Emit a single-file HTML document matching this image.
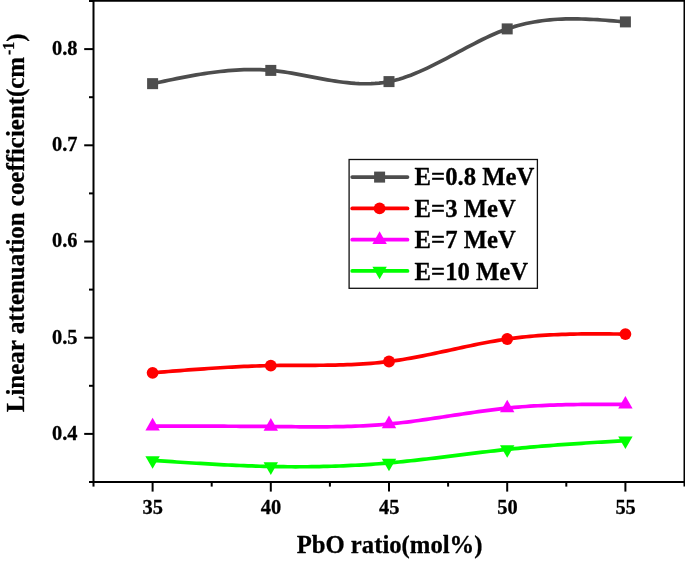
<!DOCTYPE html>
<html><head><meta charset="utf-8"><title>chart</title>
<style>html,body{margin:0;padding:0;background:#fff;}body{width:685px;height:561px;overflow:hidden;font-family:"Liberation Serif",serif;}svg text{stroke:#000;stroke-width:0.3px;stroke-linejoin:round;}</style>
</head><body>
<svg width="685" height="561" viewBox="0 0 685 561" style="display:block;will-change:transform">
<rect x="0" y="0" width="685" height="561" fill="#ffffff"/>
<path d="M152.60,83.65 L156.57,82.80 L160.55,81.96 L164.52,81.12 L168.49,80.29 L172.47,79.47 L176.44,78.67 L180.41,77.88 L184.38,77.11 L188.36,76.36 L192.33,75.64 L196.30,74.94 L200.28,74.28 L204.25,73.64 L208.22,73.04 L212.20,72.48 L216.17,71.96 L220.14,71.49 L224.12,71.06 L228.09,70.68 L232.06,70.35 L236.04,70.07 L240.01,69.85 L243.98,69.70 L247.95,69.60 L251.93,69.57 L255.90,69.61 L259.87,69.72 L263.85,69.90 L267.82,70.16 L271.79,70.49 L275.77,70.91 L279.74,71.39 L283.71,71.94 L287.69,72.54 L291.66,73.19 L295.63,73.88 L299.61,74.60 L303.58,75.34 L307.55,76.10 L311.52,76.86 L315.50,77.63 L319.47,78.38 L323.44,79.11 L327.42,79.82 L331.39,80.50 L335.36,81.14 L339.34,81.72 L343.31,82.25 L347.28,82.71 L351.26,83.10 L355.23,83.41 L359.20,83.63 L363.17,83.75 L367.15,83.76 L371.12,83.67 L375.09,83.44 L379.07,83.09 L383.04,82.61 L387.01,81.97 L390.99,81.19 L394.96,80.25 L398.93,79.16 L402.91,77.95 L406.88,76.60 L410.85,75.14 L414.83,73.58 L418.80,71.91 L422.77,70.16 L426.74,68.33 L430.72,66.42 L434.69,64.46 L438.66,62.45 L442.64,60.39 L446.61,58.30 L450.58,56.19 L454.56,54.06 L458.53,51.92 L462.50,49.79 L466.48,47.68 L470.45,45.58 L474.42,43.52 L478.39,41.50 L482.37,39.52 L486.34,37.61 L490.31,35.76 L494.29,34.00 L498.26,32.32 L502.23,30.73 L506.21,29.25 L510.18,27.89 L514.15,26.64 L518.13,25.49 L522.10,24.46 L526.07,23.52 L530.05,22.69 L534.02,21.95 L537.99,21.30 L541.96,20.73 L545.94,20.25 L549.91,19.85 L553.88,19.52 L557.86,19.26 L561.83,19.07 L565.80,18.95 L569.78,18.88 L573.75,18.86 L577.72,18.90 L581.70,18.98 L585.67,19.11 L589.64,19.28 L593.62,19.48 L597.59,19.71 L601.56,19.98 L605.53,20.26 L609.51,20.56 L613.48,20.88 L617.45,21.22 L621.43,21.56 L625.40,21.90" fill="none" stroke="#4d4d4d" stroke-width="3.7" stroke-linejoin="round" stroke-linecap="butt"/>
<rect x="147.10" y="78.15" width="11.00" height="11.00" fill="#4d4d4d"/>
<rect x="265.30" y="64.90" width="11.00" height="11.00" fill="#4d4d4d"/>
<rect x="383.50" y="76.10" width="11.00" height="11.00" fill="#4d4d4d"/>
<rect x="501.70" y="23.40" width="11.00" height="11.00" fill="#4d4d4d"/>
<rect x="619.90" y="16.40" width="11.00" height="11.00" fill="#4d4d4d"/>
<path d="M152.60,372.80 L156.57,372.48 L160.55,372.15 L164.52,371.83 L168.49,371.51 L172.47,371.19 L176.44,370.87 L180.41,370.56 L184.38,370.25 L188.36,369.95 L192.33,369.65 L196.30,369.35 L200.28,369.07 L204.25,368.78 L208.22,368.51 L212.20,368.25 L216.17,367.99 L220.14,367.74 L224.12,367.50 L228.09,367.27 L232.06,367.05 L236.04,366.85 L240.01,366.65 L243.98,366.47 L247.95,366.30 L251.93,366.14 L255.90,366.00 L259.87,365.87 L263.85,365.76 L267.82,365.66 L271.79,365.58 L275.77,365.52 L279.74,365.47 L283.71,365.43 L287.69,365.40 L291.66,365.38 L295.63,365.36 L299.61,365.35 L303.58,365.34 L307.55,365.33 L311.52,365.31 L315.50,365.29 L319.47,365.27 L323.44,365.23 L327.42,365.19 L331.39,365.13 L335.36,365.06 L339.34,364.96 L343.31,364.85 L347.28,364.72 L351.26,364.56 L355.23,364.38 L359.20,364.17 L363.17,363.93 L367.15,363.66 L371.12,363.36 L375.09,363.01 L379.07,362.63 L383.04,362.21 L387.01,361.75 L390.99,361.24 L394.96,360.69 L398.93,360.09 L402.91,359.46 L406.88,358.80 L410.85,358.10 L414.83,357.37 L418.80,356.61 L422.77,355.83 L426.74,355.03 L430.72,354.21 L434.69,353.38 L438.66,352.53 L442.64,351.68 L446.61,350.82 L450.58,349.95 L454.56,349.09 L458.53,348.23 L462.50,347.37 L466.48,346.52 L470.45,345.69 L474.42,344.86 L478.39,344.06 L482.37,343.27 L486.34,342.51 L490.31,341.77 L494.29,341.07 L498.26,340.39 L502.23,339.75 L506.21,339.14 L510.18,338.58 L514.15,338.06 L518.13,337.57 L522.10,337.13 L526.07,336.72 L530.05,336.34 L534.02,336.00 L537.99,335.68 L541.96,335.40 L545.94,335.15 L549.91,334.93 L553.88,334.73 L557.86,334.56 L561.83,334.41 L565.80,334.28 L569.78,334.18 L573.75,334.09 L577.72,334.02 L581.70,333.97 L585.67,333.93 L589.64,333.91 L593.62,333.90 L597.59,333.90 L601.56,333.91 L605.53,333.93 L609.51,333.96 L613.48,333.99 L617.45,334.02 L621.43,334.06 L625.40,334.10" fill="none" stroke="#ff0000" stroke-width="3.7" stroke-linejoin="round" stroke-linecap="butt"/>
<circle cx="152.60" cy="372.80" r="5.90" fill="#ff0000"/>
<circle cx="270.80" cy="365.60" r="5.90" fill="#ff0000"/>
<circle cx="389.00" cy="361.50" r="5.90" fill="#ff0000"/>
<circle cx="507.20" cy="339.00" r="5.90" fill="#ff0000"/>
<circle cx="625.40" cy="334.10" r="5.90" fill="#ff0000"/>
<path d="M152.60,426.20 L156.57,426.20 L160.55,426.19 L164.52,426.19 L168.49,426.18 L172.47,426.18 L176.44,426.18 L180.41,426.18 L184.38,426.17 L188.36,426.17 L192.33,426.17 L196.30,426.18 L200.28,426.18 L204.25,426.18 L208.22,426.19 L212.20,426.19 L216.17,426.20 L220.14,426.21 L224.12,426.22 L228.09,426.23 L232.06,426.25 L236.04,426.26 L240.01,426.28 L243.98,426.30 L247.95,426.32 L251.93,426.35 L255.90,426.37 L259.87,426.40 L263.85,426.44 L267.82,426.47 L271.79,426.51 L275.77,426.55 L279.74,426.59 L283.71,426.63 L287.69,426.68 L291.66,426.72 L295.63,426.75 L299.61,426.78 L303.58,426.81 L307.55,426.83 L311.52,426.85 L315.50,426.85 L319.47,426.85 L323.44,426.83 L327.42,426.80 L331.39,426.76 L335.36,426.71 L339.34,426.64 L343.31,426.55 L347.28,426.44 L351.26,426.32 L355.23,426.18 L359.20,426.01 L363.17,425.83 L367.15,425.62 L371.12,425.38 L375.09,425.12 L379.07,424.84 L383.04,424.52 L387.01,424.18 L390.99,423.81 L394.96,423.41 L398.93,422.98 L402.91,422.52 L406.88,422.05 L410.85,421.55 L414.83,421.03 L418.80,420.49 L422.77,419.94 L426.74,419.37 L430.72,418.79 L434.69,418.20 L438.66,417.61 L442.64,417.01 L446.61,416.40 L450.58,415.79 L454.56,415.18 L458.53,414.58 L462.50,413.98 L466.48,413.38 L470.45,412.80 L474.42,412.22 L478.39,411.65 L482.37,411.10 L486.34,410.57 L490.31,410.05 L494.29,409.55 L498.26,409.08 L502.23,408.63 L506.21,408.20 L510.18,407.80 L514.15,407.43 L518.13,407.09 L522.10,406.77 L526.07,406.48 L530.05,406.21 L534.02,405.96 L537.99,405.74 L541.96,405.53 L545.94,405.35 L549.91,405.18 L553.88,405.04 L557.86,404.91 L561.83,404.79 L565.80,404.70 L569.78,404.61 L573.75,404.54 L577.72,404.48 L581.70,404.44 L585.67,404.40 L589.64,404.37 L593.62,404.35 L597.59,404.34 L601.56,404.34 L605.53,404.34 L609.51,404.35 L613.48,404.36 L617.45,404.37 L621.43,404.38 L625.40,404.40" fill="none" stroke="#ff00ff" stroke-width="3.7" stroke-linejoin="round" stroke-linecap="butt"/>
<polygon points="152.60,417.80 145.40,430.40 159.80,430.40" fill="#ff00ff"/>
<polygon points="270.80,418.10 263.60,430.70 278.00,430.70" fill="#ff00ff"/>
<polygon points="389.00,415.60 381.80,428.20 396.20,428.20" fill="#ff00ff"/>
<polygon points="507.20,399.70 500.00,412.30 514.40,412.30" fill="#ff00ff"/>
<polygon points="625.40,396.00 618.20,408.60 632.60,408.60" fill="#ff00ff"/>
<path d="M152.60,460.40 L156.57,460.67 L160.55,460.93 L164.52,461.20 L168.49,461.46 L172.47,461.72 L176.44,461.98 L180.41,462.24 L184.38,462.49 L188.36,462.74 L192.33,462.99 L196.30,463.23 L200.28,463.47 L204.25,463.70 L208.22,463.93 L212.20,464.16 L216.17,464.37 L220.14,464.58 L224.12,464.78 L228.09,464.98 L232.06,465.17 L236.04,465.35 L240.01,465.52 L243.98,465.68 L247.95,465.83 L251.93,465.97 L255.90,466.10 L259.87,466.23 L263.85,466.34 L267.82,466.43 L271.79,466.52 L275.77,466.59 L279.74,466.66 L283.71,466.71 L287.69,466.74 L291.66,466.77 L295.63,466.78 L299.61,466.77 L303.58,466.76 L307.55,466.73 L311.52,466.69 L315.50,466.63 L319.47,466.56 L323.44,466.47 L327.42,466.37 L331.39,466.26 L335.36,466.13 L339.34,465.99 L343.31,465.83 L347.28,465.66 L351.26,465.47 L355.23,465.27 L359.20,465.05 L363.17,464.81 L367.15,464.56 L371.12,464.30 L375.09,464.02 L379.07,463.72 L383.04,463.40 L387.01,463.07 L390.99,462.72 L394.96,462.36 L398.93,461.98 L402.91,461.59 L406.88,461.18 L410.85,460.76 L414.83,460.33 L418.80,459.89 L422.77,459.44 L426.74,458.98 L430.72,458.51 L434.69,458.04 L438.66,457.56 L442.64,457.08 L446.61,456.59 L450.58,456.10 L454.56,455.61 L458.53,455.11 L462.50,454.62 L466.48,454.13 L470.45,453.64 L474.42,453.16 L478.39,452.68 L482.37,452.20 L486.34,451.73 L490.31,451.27 L494.29,450.81 L498.26,450.37 L502.23,449.93 L506.21,449.50 L510.18,449.09 L514.15,448.69 L518.13,448.30 L522.10,447.92 L526.07,447.55 L530.05,447.19 L534.02,446.85 L537.99,446.51 L541.96,446.18 L545.94,445.86 L549.91,445.54 L553.88,445.24 L557.86,444.94 L561.83,444.65 L565.80,444.36 L569.78,444.08 L573.75,443.81 L577.72,443.54 L581.70,443.28 L585.67,443.02 L589.64,442.77 L593.62,442.52 L597.59,442.27 L601.56,442.03 L605.53,441.79 L609.51,441.55 L613.48,441.31 L617.45,441.07 L621.43,440.84 L625.40,440.60" fill="none" stroke="#00ff00" stroke-width="3.7" stroke-linejoin="round" stroke-linecap="butt"/>
<polygon points="152.60,468.80 145.40,456.20 159.80,456.20" fill="#00ff00"/>
<polygon points="270.80,474.90 263.60,462.30 278.00,462.30" fill="#00ff00"/>
<polygon points="389.00,471.30 381.80,458.70 396.20,458.70" fill="#00ff00"/>
<polygon points="507.20,457.80 500.00,445.20 514.40,445.20" fill="#00ff00"/>
<polygon points="625.40,449.00 618.20,436.40 632.60,436.40" fill="#00ff00"/>
<g stroke="#000" stroke-width="2.0" fill="none" stroke-linecap="butt">
<line x1="93.5" y1="0" x2="93.5" y2="483.0"/>
<line x1="684.5" y1="0" x2="684.5" y2="483.0"/>
<line x1="92.5" y1="0.75" x2="685" y2="0.75"/>
<line x1="92.5" y1="482.0" x2="685" y2="482.0"/>
<line x1="89.00" y1="1.00" x2="93.5" y2="1.00"/>
<line x1="84.20" y1="49.10" x2="93.5" y2="49.10"/>
<line x1="89.00" y1="97.20" x2="93.5" y2="97.20"/>
<line x1="84.20" y1="145.30" x2="93.5" y2="145.30"/>
<line x1="89.00" y1="193.40" x2="93.5" y2="193.40"/>
<line x1="84.20" y1="241.50" x2="93.5" y2="241.50"/>
<line x1="89.00" y1="289.60" x2="93.5" y2="289.60"/>
<line x1="84.20" y1="337.70" x2="93.5" y2="337.70"/>
<line x1="89.00" y1="385.80" x2="93.5" y2="385.80"/>
<line x1="84.20" y1="433.90" x2="93.5" y2="433.90"/>
<line x1="89.00" y1="482.00" x2="93.5" y2="482.00"/>
<line x1="152.60" y1="482.0" x2="152.60" y2="491.60"/>
<line x1="211.70" y1="482.0" x2="211.70" y2="486.60"/>
<line x1="270.80" y1="482.0" x2="270.80" y2="491.60"/>
<line x1="329.90" y1="482.0" x2="329.90" y2="486.60"/>
<line x1="389.00" y1="482.0" x2="389.00" y2="491.60"/>
<line x1="448.10" y1="482.0" x2="448.10" y2="486.60"/>
<line x1="507.20" y1="482.0" x2="507.20" y2="491.60"/>
<line x1="566.30" y1="482.0" x2="566.30" y2="486.60"/>
<line x1="625.40" y1="482.0" x2="625.40" y2="491.60"/>
<line x1="684.50" y1="482.0" x2="684.50" y2="486.60"/>
<line x1="93.50" y1="482.0" x2="93.50" y2="486.60"/>
</g>
<g font-family="'Liberation Serif', serif" font-weight="bold" fill="#000" style="font-kerning:none;font-variant-ligatures:none;font-feature-settings:'liga' 0,'kern' 0,'clig' 0">
<text x="77.5" y="55.00" font-size="20.4" text-anchor="end">0.8</text>
<text x="77.5" y="151.20" font-size="20.4" text-anchor="end">0.7</text>
<text x="77.5" y="247.40" font-size="20.4" text-anchor="end">0.6</text>
<text x="77.5" y="343.60" font-size="20.4" text-anchor="end">0.5</text>
<text x="77.5" y="439.80" font-size="20.4" text-anchor="end">0.4</text>
<text x="152.80" y="514.2" font-size="20.4" text-anchor="middle">35</text>
<text x="271.00" y="514.2" font-size="20.4" text-anchor="middle">40</text>
<text x="389.20" y="514.2" font-size="20.4" text-anchor="middle">45</text>
<text x="507.40" y="514.2" font-size="20.4" text-anchor="middle">50</text>
<text x="625.60" y="514.2" font-size="20.4" text-anchor="middle">55</text>
<text id="xt" x="389.6" y="552.8" font-size="24.7" text-anchor="middle">PbO ratio(mol%)</text>
<text id="yt" transform="translate(24.1,412.2) rotate(-90)" font-size="24.9" text-anchor="start">Linear attenuation coefficient(cm<tspan font-size="15.81" dx="1.8" dy="-10.6">-1</tspan><tspan dx="0.1" dy="10.6">)</tspan></text>
<rect x="349.1" y="159.5" width="188.30" height="128.80" fill="#fff" stroke="#111" stroke-width="1.3"/>
<line x1="352.2" y1="177.1" x2="407.5" y2="177.1" stroke="#4d4d4d" stroke-width="3.7" stroke-linecap="round"/>
<rect x="374.10" y="171.60" width="11.00" height="11.00" fill="#4d4d4d"/>
<text class="lg" x="414.6" y="185.35" font-size="24.7">E=0.8 MeV</text>
<line x1="352.2" y1="208.4" x2="407.5" y2="208.4" stroke="#ff0000" stroke-width="3.7" stroke-linecap="round"/>
<circle cx="379.60" cy="208.40" r="5.90" fill="#ff0000"/>
<text class="lg" x="414.6" y="216.75" font-size="24.7">E=3 MeV</text>
<line x1="352.2" y1="239.7" x2="407.5" y2="239.7" stroke="#ff00ff" stroke-width="3.7" stroke-linecap="round"/>
<polygon points="379.60,231.30 372.40,243.90 386.80,243.90" fill="#ff00ff"/>
<text class="lg" x="414.6" y="248.10" font-size="24.7">E=7 MeV</text>
<line x1="352.2" y1="270.9" x2="407.5" y2="270.9" stroke="#00ff00" stroke-width="3.7" stroke-linecap="round"/>
<polygon points="379.60,279.30 372.40,266.70 386.80,266.70" fill="#00ff00"/>
<text class="lg" x="414.6" y="279.50" font-size="24.7">E=10 MeV</text>
</g>
</svg>
</body></html>
